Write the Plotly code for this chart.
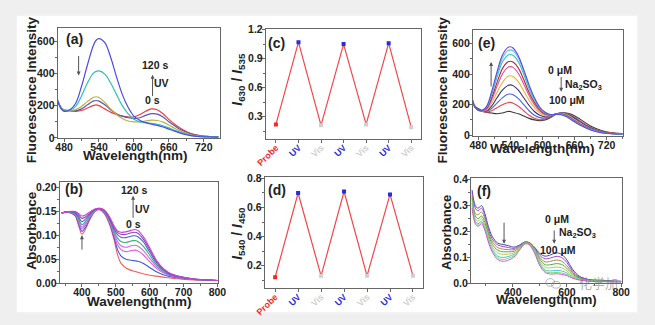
import plotly.graph_objects as go

W, H = 655, 325

# ---------------- (a) fluorescence vs irradiation time ----------------
wl_a = [468, 475, 480, 490, 500, 510, 520, 530, 535, 540, 550, 560, 570, 580, 590,
        600, 610, 620, 630, 640, 650, 660, 670, 680, 690, 700, 710, 720, 730, 745]
fl_a_0s = [240, 190, 175, 170, 165, 170, 185, 200, 205, 200, 180, 160, 145, 135, 130,
           130, 145, 165, 180, 175, 150, 115, 85, 60, 40, 25, 18, 12, 9, 8]
fl_a_30s = [240, 185, 170, 168, 168, 180, 205, 228, 232, 228, 205, 175, 150, 135, 125,
            120, 125, 140, 150, 148, 130, 100, 75, 52, 35, 22, 15, 10, 9, 8]
fl_a_60s = [240, 185, 170, 170, 175, 195, 225, 250, 255, 250, 220, 180, 145, 120, 105,
            100, 100, 105, 110, 108, 98, 80, 60, 42, 28, 18, 12, 9, 8, 7]
fl_a_90s = [240, 185, 170, 172, 195, 260, 340, 400, 412, 415, 395, 340, 270, 200, 150,
            115, 100, 95, 90, 85, 75, 62, 48, 35, 24, 15, 10, 8, 7, 6]
fl_a_120s = [240, 180, 165, 175, 215, 320, 450, 570, 605, 615, 590, 500, 380, 270, 190,
             135, 110, 95, 85, 78, 68, 55, 42, 30, 20, 13, 9, 7, 6, 5]
series_a = [fl_a_0s, fl_a_30s, fl_a_60s, fl_a_90s, fl_a_120s]
colors_a = ["#f03c3c", "#5a55b4", "#bab23e", "#2fc2b2", "#4a4ae8"]

# ---------------- (b) absorbance vs irradiation time ----------------
wl_b = [340, 360, 380, 390, 400, 410, 425, 440, 452, 465, 480, 495, 505, 515, 530,
        545, 555, 565, 580, 600, 620, 640, 660, 690, 730, 800]
ab_b = [
    [.146, .148, .140, .120, .102, .112, .135, .150, .153, .146, .125, .090, .060, .042, .032,
     .027, .025, .023, .020, .017, .015, .013, .011, .009, .007, .006],
    [.146, .148, .141, .124, .108, .116, .137, .151, .154, .147, .128, .095, .070, .057, .050,
     .048, .047, .046, .042, .033, .024, .018, .014, .011, .008, .006],
    [.146, .148, .143, .128, .113, .120, .139, .152, .154, .148, .130, .100, .080, .070, .066,
     .068, .069, .067, .060, .045, .031, .022, .016, .012, .008, .006],
    [.146, .148, .144, .131, .117, .124, .141, .152, .155, .149, .132, .104, .087, .078, .075,
     .078, .079, .077, .069, .052, .035, .024, .017, .012, .008, .006],
    [.146, .149, .145, .134, .122, .128, .143, .153, .155, .150, .134, .108, .094, .087, .085,
     .088, .089, .087, .078, .059, .039, .026, .018, .013, .009, .006],
    [.146, .149, .146, .138, .128, .133, .145, .154, .155, .151, .136, .112, .101, .096, .095,
     .098, .099, .097, .087, .065, .043, .028, .019, .013, .009, .006],
    [.146, .149, .148, .142, .135, .138, .147, .154, .156, .152, .138, .116, .106, .102, .102,
     .105, .106, .104, .093, .070, .046, .030, .020, .014, .009, .006],
    [.146, .149, .149, .145, .140, .142, .149, .155, .156, .153, .140, .119, .109, .106, .107,
     .110, .112, .110, .098, .074, .048, .031, .021, .014, .009, .006],
]
colors_b = ["#f06060", "#3a5cd6", "#e05ce0", "#c070e8", "#30b070", "#4868c8", "#9040c8", "#d040d0"]

# ---------------- (c), (d) switching cycles ----------------
cycle_labels = ["Probe", "UV", "Vis", "UV", "Vis", "UV", "Vis"]
label_colors = {"Probe": "#f02828", "UV": "#2a2ae0", "Vis": "#cfcfcf"}
ratio_c = [0.22, 1.07, 0.21, 1.05, 0.22, 1.06, 0.19]
ratio_d = [0.12, 0.70, 0.13, 0.71, 0.13, 0.69, 0.13]

# ---------------- (e) fluorescence vs Na2SO3 ----------------
wl_e = [469, 475, 485, 495, 505, 515, 525, 535, 540, 545, 555, 565, 575, 585, 595,
        605, 615, 625, 635, 645, 655, 670, 690, 710, 730, 750]
fl_e = [
    [230, 185, 165, 150, 145, 140, 145, 155, 155, 150, 140, 125, 110, 100, 95, 100, 115, 135, 145, 145, 135, 105, 60, 30, 15, 10],
    [230, 180, 160, 150, 160, 180, 200, 213, 215, 210, 190, 160, 130, 110, 100, 105, 120, 138, 145, 142, 128, 95, 52, 25, 13, 9],
    [230, 180, 158, 155, 175, 210, 245, 268, 270, 265, 240, 200, 160, 130, 115, 112, 120, 138, 145, 140, 125, 90, 48, 23, 12, 8],
    [230, 180, 158, 160, 190, 245, 295, 325, 330, 325, 295, 245, 195, 155, 130, 120, 125, 138, 145, 138, 120, 85, 45, 22, 12, 8],
    [230, 178, 158, 165, 210, 280, 345, 385, 390, 385, 350, 290, 230, 180, 145, 128, 128, 138, 143, 135, 115, 80, 42, 20, 11, 8],
    [230, 178, 158, 170, 230, 320, 400, 445, 450, 445, 405, 335, 260, 200, 158, 135, 130, 138, 140, 130, 110, 75, 40, 19, 10, 7],
    [230, 178, 160, 175, 245, 345, 435, 480, 485, 480, 440, 365, 280, 215, 168, 140, 132, 138, 138, 128, 105, 72, 38, 18, 10, 7],
    [230, 178, 160, 180, 265, 380, 480, 525, 530, 525, 480, 400, 305, 230, 175, 145, 133, 137, 136, 125, 102, 70, 36, 17, 9, 7],
    [230, 178, 160, 183, 275, 400, 505, 555, 560, 555, 505, 420, 320, 240, 180, 148, 134, 136, 135, 123, 100, 68, 35, 16, 9, 7],
    [230, 178, 160, 185, 285, 415, 525, 575, 580, 572, 520, 430, 330, 245, 183, 150, 135, 136, 134, 120, 98, 66, 34, 16, 9, 7],
]
colors_e = ["#3a3a3a", "#e84848", "#4a66e0", "#343488", "#f0b43a", "#e04aa0",
            "#b82a2a", "#2ac2c6", "#66b4f0", "#5a4ce0"]

# ---------------- (f) absorbance vs Na2SO3 ----------------
wl_f = [250, 262, 272, 285, 297, 310, 325, 345, 365, 385, 405, 425, 445, 460, 480,
        500, 520, 540, 560, 580, 600, 620, 645, 675, 720, 800]
ab_f = [
    [.36, .30, .29, .30, .27, .22, .18, .155, .15, .145, .14, .148, .16, .158, .14, .115, .105, .11, .118, .112, .09, .055, .028, .016, .011, .008],
    [.35, .29, .28, .29, .26, .21, .17, .148, .142, .138, .135, .145, .158, .157, .138, .108, .095, .098, .104, .10, .08, .048, .025, .015, .01, .008],
    [.34, .27, .265, .275, .25, .20, .16, .138, .132, .13, .13, .142, .157, .156, .135, .10, .083, .085, .09, .086, .068, .042, .022, .013, .009, .007],
    [.33, .26, .25, .26, .235, .19, .15, .128, .122, .122, .124, .139, .156, .155, .132, .093, .072, .072, .076, .073, .058, .036, .02, .012, .009, .007],
    [.32, .25, .24, .25, .225, .18, .14, .117, .112, .113, .118, .136, .155, .154, .128, .085, .062, .06, .063, .06, .048, .031, .018, .011, .008, .006],
    [.31, .24, .23, .24, .215, .17, .13, .105, .10, .104, .112, .133, .154, .152, .124, .078, .052, .048, .05, .048, .04, .026, .016, .01, .008, .006],
    [.30, .235, .225, .235, .21, .165, .125, .098, .092, .097, .107, .131, .153, .151, .121, .072, .046, .041, .042, .04, .034, .023, .014, .01, .007, .006],
    [.29, .23, .22, .23, .205, .16, .12, .092, .085, .09, .102, .128, .152, .15, .118, .068, .042, .036, .037, .035, .03, .02, .013, .009, .007, .006],
]
colors_f = ["#4040c0", "#a048c8", "#a88a48", "#40b048", "#c8c040", "#40c4d4", "#70e070", "#e050e0"]

FONT = "Arial, Liberation Sans, sans-serif"
AX_COLOR = "#666666"


def px(x):
    return x / W


def py(y):
    return 1 - y / H


def axis(domain, rng, anchor, standoff, **kw):
    d = dict(domain=domain, range=rng, anchor=anchor, showline=True, mirror=True,
             linecolor=AX_COLOR, linewidth=1, ticks="outside", ticklen=3,
             tickcolor=AX_COLOR, showgrid=False, zeroline=False,
             ticklabelstandoff=standoff,
             tickfont=dict(family=FONT, size=10.5, color="#222", weight="bold"))
    d.update(kw)
    return d


def xax(domain, rng, anchor, **kw):
    return axis(domain, rng, anchor, -4, **kw)


def yax(domain, rng, anchor, **kw):
    return axis(domain, rng, anchor, -3, **kw)


fig = go.Figure()

for ys, c in zip(series_a, colors_a):
    fig.add_trace(go.Scatter(x=wl_a, y=ys, mode="lines", line=dict(color=c, width=1.2, shape="spline"),
                             xaxis="x", yaxis="y", showlegend=False))
for ys, c in zip(ab_b, colors_b):
    fig.add_trace(go.Scatter(x=wl_b, y=ys, mode="lines", line=dict(color=c, width=1.1, shape="spline"),
                             xaxis="x2", yaxis="y2", showlegend=False))

cyc_x = list(range(len(cycle_labels)))
marker_cols = [label_colors[l] for l in cycle_labels]
for vals, xa, ya in [(ratio_c, "x3", "y3"), (ratio_d, "x4", "y4")]:
    fig.add_trace(go.Scatter(x=cyc_x, y=vals, mode="lines", line=dict(color="#f04848", width=1.2),
                             xaxis=xa, yaxis=ya, showlegend=False))
    fig.add_trace(go.Scatter(x=cyc_x, y=vals, mode="markers",
                             marker=dict(color=marker_cols, size=4, symbol="square"),
                             xaxis=xa, yaxis=ya, showlegend=False))

for ys, c in zip(fl_e, colors_e):
    fig.add_trace(go.Scatter(x=wl_e, y=ys, mode="lines", line=dict(color=c, width=1.1, shape="spline"),
                             xaxis="x5", yaxis="y5", showlegend=False))
for ys, c in zip(ab_f, colors_f):
    fig.add_trace(go.Scatter(x=wl_f, y=ys, mode="lines", line=dict(color=c, width=1.0, shape="spline"),
                             xaxis="x6", yaxis="y6", showlegend=False))

cyc_text = ['<span style="color:%s">%s</span>' % (label_colors[l], l) for l in cycle_labels]
cyc_font = dict(family=FONT, size=9, color="#222", weight="bold")


def minor(step, tick0=None):
    m = dict(ticks="outside", ticklen=2, dtick=step, tickcolor=AX_COLOR)
    if tick0 is not None:
        m["tick0"] = tick0
    return m


layout = dict(
    width=W, height=H, autosize=False,
    margin=dict(l=0, r=0, t=0, b=0),
    paper_bgcolor="#efefef", plot_bgcolor="white",
    xaxis=xax([px(49), px(216)], [469, 748], "y", tickvals=[480, 540, 600, 660, 720], minor=minor(30, 480)),
    yaxis=yax([py(137), py(23)], [0, 680], "x", tickvals=[0, 200, 400, 600], minor=minor(100)),
    xaxis2=xax([px(51), px(214)], [334, 802], "y2", tickvals=[400, 500, 600, 700, 800], minor=minor(50)),
    yaxis2=yax([py(288), py(183)], [0, 0.21], "x2", tickvals=[0, 0.05, 0.10, 0.15, 0.20],
               tickformat=".2f", minor=minor(0.025)),
    xaxis3=xax([px(263), px(423)], [-0.45, 6.45], "y3", tickvals=cyc_x, ticktext=cyc_text,
               tickangle=-45, tickfont=cyc_font),
    yaxis3=yax([py(138), py(24)], [0.07, 1.205], "x3", tickvals=[0.3, 0.6, 0.9, 1.2], tickformat=".1f",
               minor=minor(0.15)),
    xaxis4=xax([px(262), px(425)], [-0.45, 6.45], "y4", tickvals=cyc_x, ticktext=cyc_text,
               tickangle=-45, tickfont=cyc_font),
    yaxis4=yax([py(293), py(178)], [0.045, 0.807], "x4", tickvals=[0.2, 0.4, 0.6, 0.8], tickformat=".1f",
               minor=minor(0.1)),
    xaxis5=xax([px(476), px(630)], [470, 750], "y5", tickvals=[480, 540, 600, 660, 720], minor=minor(30, 480)),
    yaxis5=yax([py(135), py(25)], [-6, 690], "x5", tickvals=[0, 200, 400, 600], minor=minor(100)),
    xaxis6=xax([px(474), px(629)], [246, 802], "y6", tickvals=[400, 600, 800], minor=minor(100)),
    yaxis6=yax([py(288), py(179)], [0, 0.405], "x6", tickvals=[0, 0.1, 0.2, 0.3, 0.4], tickformat=".1f",
               minor=minor(0.05)),
    shapes=[
        dict(type="rect", xref="paper", yref="paper", x0=px(7), x1=px(645), y0=py(318), y1=py(10),
             fillcolor="white", line=dict(width=0), layer="below"),
        # small chat-bubble logo next to the publisher mark
        dict(type="circle", xref="paper", yref="paper", x0=px(551), x1=px(560), y0=py(291), y1=py(283),
             line=dict(color="rgba(140,140,140,0.6)", width=1)),
        dict(type="circle", xref="paper", yref="paper", x0=px(557), x1=px(566), y0=py(293), y1=py(286),
             line=dict(color="rgba(140,140,140,0.6)", width=1)),
    ],
)
fig.update_layout(**layout)

ann = []


def ptext(x, y, text, size=13.5, angle=0, color="#222"):
    ann.append(dict(xref="paper", yref="paper", x=px(x), y=py(y), text=text, showarrow=False,
                    textangle=angle, xanchor="center", yanchor="middle",
                    font=dict(family=FONT, size=size, color=color, weight="bold")))


def dtext(xa, ya, x, y, text, size=10.5):
    ann.append(dict(xref=xa, yref=ya, x=x, y=y, text=text, showarrow=False,
                    xanchor="center", yanchor="middle",
                    font=dict(family=FONT, size=size, color="#222", weight="bold")))


def arrow(xa, ya, x, y0, y1):
    ann.append(dict(xref=xa, yref=ya, axref=xa, ayref=ya, x=x, y=y1, ax=x, ay=y0, text="",
                    showarrow=True, arrowhead=2, arrowsize=0.8, arrowwidth=1, arrowcolor="#555"))


# axis titles
ptext(22, 87, "Fluorescence Intensity", angle=-90)
ptext(129, 155, "Wavelength(nm)")
ptext(22, 233, "Absorbance", angle=-90)
ptext(133, 307, "Wavelength(nm)")
ptext(235, 76, "<i>I</i><sub>630</sub> / <i>I</i><sub>535</sub>", size=14, angle=-90)
ptext(235, 236, "<i>I</i><sub>540</sub> / <i>I</i><sub>450</sub>", size=14, angle=-90)
ptext(445, 87, "Fluorescence Intensity", angle=-90)
ptext(548, 148, "Wavelength(nm)")
ptext(449, 235, "Absorbance", size=13, angle=-90)
ptext(552, 305, "Wavelength(nm)", size=13)

# panel letters
for x, y, t in [(66, 34, "(a)"), (66, 190, "(b)"), (274, 38, "(c)"), (275, 191, "(d)"),
                (490, 38, "(e)"), (487, 192, "(f)")]:
    ptext(x, y, t, size=14)

# in-plot notes and arrows
dtext("x", "y", 637, 451, "120 s")
dtext("x", "y", 648, 339, "UV")
dtext("x", "y", 632, 238, "0 s")
arrow("x", "y", 632, 250, 392)
arrow("x", "y", 505, 517, 386)

dtext("x2", "y2", 554, 0.194, "120 s")
dtext("x2", "y2", 580, 0.155, "UV")
dtext("x2", "y2", 551, 0.124, "0 s")
arrow("x2", "y2", 551, 0.133, 0.182)
arrow("x2", "y2", 400, 0.067, 0.100)

dtext("x5", "y5", 633, 430, "0 μM")
dtext("x5", "y5", 676, 330, "Na<sub>2</sub>SO<sub>3</sub>")
dtext("x5", "y5", 645, 228, "100 μM")
arrow("x5", "y5", 504, 310, 480)
arrow("x5", "y5", 635, 392, 285)

dtext("x6", "y6", 564, 0.25, "0 μM")
dtext("x6", "y6", 640, 0.195, "Na<sub>2</sub>SO<sub>3</sub>")
dtext("x6", "y6", 568, 0.13, "100 μM")
arrow("x6", "y6", 553, 0.21, 0.153)
arrow("x6", "y6", 368, 0.24, 0.153)

# publisher mark
ann.append(dict(xref="paper", yref="paper", x=px(605), y=py(287), text="化学加", showarrow=False,
                xanchor="center", yanchor="middle",
                font=dict(family="Noto Sans CJK SC", size=13, color="rgba(110,110,110,0.55)")))

fig.update_layout(annotations=ann)
fig.write_html("out.html")
